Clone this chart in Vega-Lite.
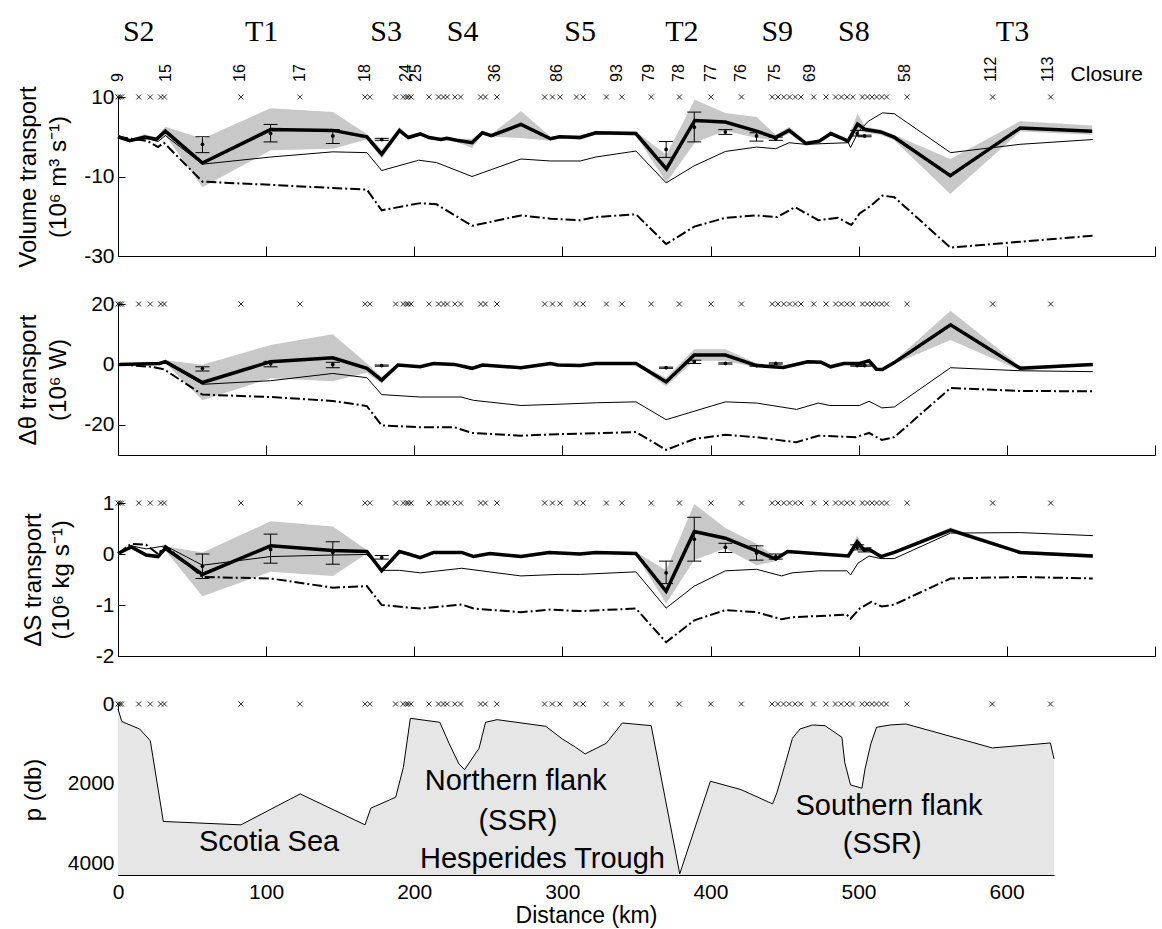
{
  "$schema": "https://vega.github.io/schema/vega-lite/v6.json",
  "background": "white",
  "padding": {"left": 16, "top": 17, "right": 5, "bottom": 5},
  "spacing": 48,
  "bounds": "flush",
  "config": {
    "font": "Liberation Sans",
    "view": {"stroke": null},
    "axis": {"grid": false, "domainColor": "black", "tickColor": "black", "labelColor": "black", "titleColor": "black", "labelFont": "Liberation Sans", "titleFont": "Liberation Sans", "labelFontSize": 21, "titleFontSize": 24, "titleFontWeight": "normal", "labelFlush": false, "labelOverlap": false, "domainWidth": 1, "tickWidth": 1}
  },
  "datasets": {
    "st": [{"x":0},{"x":1.2},{"x":2.4},{"x":14},{"x":21.8},{"x":28.8},{"x":31.3},{"x":83},{"x":122.8},{"x":166.8},{"x":170},{"x":187.4},{"x":192.6},{"x":194.7},{"x":196},{"x":197.8},{"x":210},{"x":216.4},{"x":219.7},{"x":222.3},{"x":227.4},{"x":231.3},{"x":244.8},{"x":248},{"x":255.8},{"x":288},{"x":293.3},{"x":298.5},{"x":309.5},{"x":314},{"x":329.7},{"x":340.1},{"x":360},{"x":379},{"x":400.2},{"x":420.9},{"x":441.6},{"x":445.5},{"x":449.4},{"x":453.3},{"x":457.2},{"x":461},{"x":469.6},{"x":477.9},{"x":484.4},{"x":488.3},{"x":492.2},{"x":496},{"x":502.5},{"x":505.9},{"x":509},{"x":512.1},{"x":515.5},{"x":518.8},{"x":532.7},{"x":590.4},{"x":629.6}],
    "sn": [{"x":0,"l":"9"},{"x":32.6,"l":"15"},{"x":82.5,"l":"16"},{"x":123,"l":"17"},{"x":167,"l":"18"},{"x":194.5,"l":"24"},{"x":201,"l":"25"},{"x":254.5,"l":"36"},{"x":296,"l":"86"},{"x":337,"l":"93"},{"x":358.6,"l":"79"},{"x":379,"l":"78"},{"x":400,"l":"77"},{"x":420.7,"l":"76"},{"x":443.3,"l":"75"},{"x":467,"l":"69"},{"x":531,"l":"58"},{"x":589.6,"l":"112"},{"x":628,"l":"113"}],
    "sl": [{"x":14,"l":"S2"},{"x":97,"l":"T1"},{"x":181,"l":"S3"},{"x":232.6,"l":"S4"},{"x":312,"l":"S5"},{"x":380.6,"l":"T2"},{"x":445,"l":"S9"},{"x":496.7,"l":"S8"},{"x":603.8,"l":"T3"}],
    "cl": [{"x":643,"l":"Closure"}],
    "p1": [{"x":0,"y":0,"lo":-0.3,"hi":0.3},{"x":8,"y":-1.0,"lo":-1.4,"hi":-0.6},{"x":18,"y":-0.1,"lo":-0.5,"hi":0.6},{"x":26,"y":-0.6,"lo":-1.0,"hi":-0.2},{"x":32,"y":1.4,"lo":0.3,"hi":2.5},{"x":57,"y":-6.6,"lo":-12.7,"hi":-0.5},{"x":103,"y":1.8,"lo":-3.4,"hi":7.2},{"x":145,"y":1.6,"lo":-3.0,"hi":6.2},{"x":168,"y":0,"lo":-0.7,"hi":0.7},{"x":178,"y":-4.4,"lo":-5.5,"hi":-3.3},{"x":190,"y":1.6,"lo":0.8,"hi":2.4},{"x":196,"y":-0.2,"lo":-0.6,"hi":0.2},{"x":204,"y":0.7,"lo":0.3,"hi":1.1},{"x":210,"y":-0.2,"lo":-0.6,"hi":0.2},{"x":218,"y":-0.7,"lo":-1.1,"hi":-0.3},{"x":222,"y":-0.4,"lo":-0.8,"hi":0},{"x":228.5,"y":-0.9,"lo":-1.3,"hi":-0.5},{"x":239,"y":-1.5,"lo":-2.8,"hi":-0.5},{"x":246,"y":1.0,"lo":0.5,"hi":1.5},{"x":252,"y":0.3,"lo":0,"hi":0.6},{"x":272,"y":3.1,"lo":-0.3,"hi":6.5},{"x":292,"y":-0.5,"lo":-1.0,"hi":0},{"x":298,"y":0,"lo":-0.3,"hi":0.3},{"x":312,"y":-0.2,"lo":-0.8,"hi":0.3},{"x":322.5,"y":1.0,"lo":0.5,"hi":1.4},{"x":349.6,"y":0.8,"lo":0.3,"hi":1.3},{"x":370.2,"y":-8.1,"lo":-11.5,"hi":-4.5},{"x":389.3,"y":4.1,"lo":-1.5,"hi":9.3},{"x":409.9,"y":3.7,"lo":1.5,"hi":6.0},{"x":431,"y":1.4,"lo":-0.3,"hi":5.0},{"x":443.8,"y":-0.2,"lo":-0.8,"hi":0.5},{"x":453,"y":1.6,"lo":0.8,"hi":2.5},{"x":464.4,"y":-1.7,"lo":-2.3,"hi":-1.1},{"x":473.4,"y":-1.1,"lo":-1.6,"hi":-0.6},{"x":481.2,"y":0.8,"lo":0.3,"hi":1.3},{"x":492.8,"y":-1.1,"lo":-1.6,"hi":-0.6},{"x":499.2,"y":3.2,"lo":1.5,"hi":5.8},{"x":504.4,"y":1.8,"lo":1.0,"hi":2.5},{"x":514.8,"y":1.2,"lo":0.5,"hi":1.8},{"x":523.8,"y":-0.1,"lo":-0.8,"hi":0.5},{"x":561.8,"y":-9.8,"lo":-14.4,"hi":-5.6},{"x":609,"y":2.2,"lo":1.3,"hi":3.9},{"x":657.6,"y":1.4,"lo":0.5,"hi":2.8}],
    "t1": [{"x":0,"y":0},{"x":8,"y":-1.0},{"x":20,"y":-0.5},{"x":27,"y":-1.2},{"x":32,"y":0.3},{"x":57,"y":-6.9},{"x":103,"y":-5.1},{"x":145,"y":-3.8},{"x":168,"y":-4.0},{"x":178,"y":-8.5},{"x":203,"y":-5.9},{"x":215,"y":-6.5},{"x":239,"y":-10},{"x":272,"y":-5.6},{"x":292,"y":-6.1},{"x":312,"y":-6.1},{"x":322.5,"y":-5.1},{"x":349.6,"y":-3.6},{"x":370,"y":-11.6},{"x":389,"y":-7.3},{"x":410,"y":-3.7},{"x":431,"y":-2.6},{"x":444,"y":-3.0},{"x":453,"y":-1.5},{"x":464,"y":-1.9},{"x":493,"y":-1.5},{"x":494.5,"y":-2.7},{"x":500,"y":1.4},{"x":506.5,"y":3.9},{"x":516,"y":6.0},{"x":524,"y":5.8},{"x":562,"y":-4.0},{"x":609,"y":-1.9},{"x":658,"y":-0.7}],
    "d1": [{"x":0,"y":0},{"x":20,"y":-1.1},{"x":27,"y":-2.6},{"x":31,"y":-1.5},{"x":57,"y":-11.3},{"x":103,"y":-12.1},{"x":145,"y":-12.9},{"x":168,"y":-13.3},{"x":178,"y":-18.5},{"x":204,"y":-16.7},{"x":215,"y":-17},{"x":239,"y":-22.4},{"x":272,"y":-19.8},{"x":292,"y":-20.6},{"x":312,"y":-21},{"x":322.5,"y":-20.2},{"x":349.6,"y":-19.5},{"x":370,"y":-27},{"x":389,"y":-22.6},{"x":410,"y":-20.4},{"x":431,"y":-19.8},{"x":445,"y":-20.2},{"x":457,"y":-17.7},{"x":472.7,"y":-21},{"x":486,"y":-20.4},{"x":495,"y":-22.2},{"x":500.6,"y":-19.3},{"x":508.5,"y":-17.3},{"x":516,"y":-14.8},{"x":524,"y":-15.2},{"x":562,"y":-27.9},{"x":609,"y":-26.4},{"x":658,"y":-24.9}],
    "e1": [{"x":57,"pt":-1.9,"lo":-4.0,"hi":0},{"x":103,"pt":0.8,"lo":-1.3,"hi":3.1},{"x":145,"pt":0.2,"lo":-1.7,"hi":1.8},{"x":178,"pt":-0.7,"lo":-0.9,"hi":-0.4},{"x":370,"pt":-3.2,"lo":-5.2,"hi":-1.2},{"x":389,"pt":2.4,"lo":-1.3,"hi":6.2},{"x":410,"pt":1.2,"lo":0.6,"hi":1.8},{"x":431,"pt":0.2,"lo":-1.1,"hi":1.0},{"x":444,"pt":-0.5,"lo":-0.9,"hi":-0.1},{"x":499,"pt":0.8,"lo":0.2,"hi":1.6},{"x":504,"pt":0.2,"lo":0.0,"hi":0.4}],
    "p2": [{"x":0,"y":0,"lo":-0.3,"hi":0.3},{"x":28,"y":0.3,"lo":0,"hi":0.6},{"x":32,"y":0.9,"lo":0.4,"hi":1.4},{"x":57,"y":-6.0,"lo":-11.9,"hi":-0.1},{"x":103,"y":0.9,"lo":-4.6,"hi":6.4},{"x":145,"y":2.2,"lo":-5.6,"hi":10},{"x":168,"y":-1.3,"lo":-2.8,"hi":0.3},{"x":178,"y":-5.2,"lo":-6.3,"hi":-4.1},{"x":189,"y":-0.2,"lo":-0.6,"hi":0.2},{"x":204,"y":-0.8,"lo":-1.2,"hi":-0.4},{"x":213,"y":0.3,"lo":-0.1,"hi":0.7},{"x":227,"y":0,"lo":-0.4,"hi":0.4},{"x":239,"y":-1.3,"lo":-1.8,"hi":-0.8},{"x":246,"y":-0.2,"lo":-0.6,"hi":0.2},{"x":272,"y":-1.1,"lo":-1.6,"hi":-0.6},{"x":292,"y":0.3,"lo":-0.1,"hi":0.7},{"x":297,"y":-0.2,"lo":-0.6,"hi":0.2},{"x":312,"y":-0.4,"lo":-0.8,"hi":0},{"x":322.5,"y":0.3,"lo":-0.1,"hi":0.7},{"x":349.6,"y":0.3,"lo":-0.1,"hi":0.7},{"x":370,"y":-5.8,"lo":-7.2,"hi":-4.4},{"x":389,"y":3.1,"lo":1.2,"hi":5.0},{"x":410,"y":3.1,"lo":1.2,"hi":5.0},{"x":431,"y":-0.4,"lo":-1.0,"hi":0.4},{"x":449,"y":-1.0,"lo":-1.5,"hi":-0.5},{"x":465.6,"y":0.9,"lo":0.4,"hi":1.4},{"x":474.6,"y":0.7,"lo":0.2,"hi":1.2},{"x":481,"y":-0.8,"lo":-1.2,"hi":-0.4},{"x":490,"y":0.3,"lo":-0.1,"hi":0.7},{"x":500.6,"y":0.3,"lo":-0.1,"hi":0.7},{"x":507,"y":1.2,"lo":0.7,"hi":1.7},{"x":512,"y":-1.6,"lo":-2.0,"hi":-1.2},{"x":516,"y":-1.7,"lo":-2.1,"hi":-1.3},{"x":524,"y":0.6,"lo":0.1,"hi":1.1},{"x":562,"y":13.1,"lo":8.1,"hi":17.8},{"x":609,"y":-1.3,"lo":-2.0,"hi":-0.6},{"x":658,"y":0,"lo":-0.4,"hi":0.4}],
    "t2": [{"x":0,"y":0},{"x":28,"y":0},{"x":32,"y":0.6},{"x":57,"y":-6.6},{"x":103,"y":-5.4},{"x":145,"y":-3.0},{"x":168,"y":-4.4},{"x":178,"y":-10},{"x":204,"y":-10.8},{"x":231.6,"y":-10.8},{"x":240,"y":-11.9},{"x":272,"y":-13.6},{"x":297,"y":-13.2},{"x":323,"y":-12.7},{"x":349.6,"y":-12.4},{"x":370,"y":-18.3},{"x":410,"y":-12.4},{"x":431,"y":-12.8},{"x":458,"y":-14.9},{"x":472.7,"y":-12.8},{"x":480.5,"y":-13.6},{"x":500.6,"y":-13.6},{"x":507,"y":-12.2},{"x":515.6,"y":-14.4},{"x":524,"y":-14.1},{"x":562,"y":-1.1},{"x":609,"y":-2.1},{"x":658,"y":-2.4}],
    "d2": [{"x":0,"y":0},{"x":23,"y":-0.8},{"x":31,"y":-1.6},{"x":57,"y":-10},{"x":103,"y":-10.8},{"x":145,"y":-12.1},{"x":168,"y":-13.8},{"x":178,"y":-20.2},{"x":204,"y":-20.8},{"x":227,"y":-20.8},{"x":239,"y":-22.7},{"x":272,"y":-23.6},{"x":297,"y":-23.1},{"x":323,"y":-22.8},{"x":349.6,"y":-22.4},{"x":370,"y":-28.3},{"x":389,"y":-24.7},{"x":410,"y":-23.3},{"x":431,"y":-24.1},{"x":458,"y":-25.8},{"x":472.7,"y":-23.6},{"x":498,"y":-24.1},{"x":507,"y":-22.7},{"x":515.6,"y":-25},{"x":524,"y":-24.1},{"x":562,"y":-7.8},{"x":609,"y":-8.8},{"x":658,"y":-8.9}],
    "e2": [{"x":57,"pt":-1.4,"lo":-2.2,"hi":-0.8},{"x":103,"pt":0.2,"lo":-0.8,"hi":1.0},{"x":145,"pt":0,"lo":-1.1,"hi":0.7},{"x":178,"pt":-0.4,"lo":-0.6,"hi":-0.2},{"x":370,"pt":-1.1,"lo":-1.3,"hi":-0.9},{"x":389,"pt":0.9,"lo":0.3,"hi":1.4},{"x":410,"pt":0.3,"lo":0.1,"hi":0.5},{"x":431,"pt":-0.4,"lo":-0.6,"hi":-0.2},{"x":444,"pt":0.3,"lo":0.1,"hi":0.5},{"x":499,"pt":-0.4,"lo":-0.6,"hi":-0.2},{"x":504,"pt":-0.4,"lo":-0.6,"hi":-0.2}],
    "p3": [{"x":0,"y":0.01,"lo":-0.01,"hi":0.03},{"x":9,"y":0.14,"lo":0.11,"hi":0.18},{"x":19,"y":-0.02,"lo":-0.05,"hi":0.01},{"x":27,"y":-0.05,"lo":-0.08,"hi":-0.02},{"x":32,"y":0.11,"lo":0.07,"hi":0.15},{"x":57,"y":-0.4,"lo":-0.83,"hi":0.03},{"x":103,"y":0.16,"lo":-0.35,"hi":0.64},{"x":145,"y":0.07,"lo":-0.43,"hi":0.54},{"x":168,"y":0.05,"lo":0.01,"hi":0.08},{"x":178,"y":-0.33,"lo":-0.37,"hi":-0.28},{"x":190,"y":0.05,"lo":0.02,"hi":0.08},{"x":196,"y":0,"lo":-0.03,"hi":0.03},{"x":204,"y":-0.07,"lo":-0.1,"hi":-0.04},{"x":213,"y":0.03,"lo":0,"hi":0.06},{"x":232,"y":0.03,"lo":0,"hi":0.06},{"x":240,"y":-0.05,"lo":-0.08,"hi":-0.02},{"x":251,"y":0.01,"lo":-0.02,"hi":0.04},{"x":272,"y":-0.05,"lo":-0.08,"hi":-0.02},{"x":291,"y":0.03,"lo":0,"hi":0.06},{"x":312,"y":0,"lo":-0.03,"hi":0.03},{"x":322.5,"y":0.03,"lo":0,"hi":0.06},{"x":349.6,"y":0.01,"lo":-0.02,"hi":0.04},{"x":370,"y":-0.73,"lo":-0.97,"hi":-0.32},{"x":389,"y":0.44,"lo":-0.12,"hi":0.98},{"x":410,"y":0.31,"lo":0.11,"hi":0.51},{"x":431,"y":0.06,"lo":-0.22,"hi":0.2},{"x":444,"y":-0.1,"lo":-0.14,"hi":-0.05},{"x":452,"y":0.05,"lo":0.02,"hi":0.08},{"x":493,"y":-0.04,"lo":-0.07,"hi":-0.01},{"x":499,"y":0.24,"lo":0.13,"hi":0.37},{"x":503.5,"y":0.08,"lo":0.05,"hi":0.11},{"x":507,"y":0.09,"lo":0.06,"hi":0.12},{"x":515,"y":-0.05,"lo":-0.08,"hi":-0.02},{"x":524,"y":0.03,"lo":0,"hi":0.06},{"x":562,"y":0.47,"lo":0.42,"hi":0.52},{"x":609,"y":0.03,"lo":0,"hi":0.06},{"x":658,"y":-0.04,"lo":-0.08,"hi":0}],
    "t3": [{"x":0,"y":0.01},{"x":9,"y":0.16},{"x":19,"y":0.1},{"x":32,"y":0.16},{"x":57,"y":-0.22},{"x":103,"y":-0.05},{"x":145,"y":-0.02},{"x":168,"y":-0.01},{"x":178,"y":-0.32},{"x":190,"y":-0.32},{"x":204,"y":-0.37},{"x":232,"y":-0.28},{"x":272,"y":-0.43},{"x":297,"y":-0.4},{"x":312,"y":-0.4},{"x":349.6,"y":-0.35},{"x":370,"y":-1.06},{"x":389,"y":-0.63},{"x":410,"y":-0.33},{"x":431,"y":-0.3},{"x":448,"y":-0.43},{"x":455,"y":-0.37},{"x":472.7,"y":-0.33},{"x":492,"y":-0.33},{"x":494.5,"y":-0.41},{"x":499.5,"y":-0.18},{"x":507,"y":-0.04},{"x":515,"y":-0.09},{"x":524,"y":-0.09},{"x":562,"y":0.41},{"x":609,"y":0.42},{"x":658,"y":0.36}],
    "d3": [{"x":0,"y":0.01},{"x":9,"y":0.2},{"x":19,"y":0.18},{"x":27,"y":0},{"x":32,"y":0.16},{"x":57,"y":-0.45},{"x":103,"y":-0.48},{"x":145,"y":-0.66},{"x":168,"y":-0.63},{"x":178,"y":-1.0},{"x":204,"y":-1.07},{"x":232,"y":-0.99},{"x":240,"y":-1.07},{"x":272,"y":-1.14},{"x":292,"y":-1.09},{"x":312,"y":-1.12},{"x":349.6,"y":-1.07},{"x":370,"y":-1.73},{"x":389,"y":-1.3},{"x":410,"y":-1.1},{"x":431,"y":-1.14},{"x":448,"y":-1.28},{"x":455,"y":-1.24},{"x":492,"y":-1.19},{"x":494.5,"y":-1.27},{"x":500.6,"y":-1.07},{"x":508.5,"y":-0.94},{"x":515.6,"y":-1.03},{"x":524,"y":-0.99},{"x":562,"y":-0.48},{"x":609,"y":-0.45},{"x":658,"y":-0.48}],
    "e3": [{"x":57,"pt":-0.24,"lo":-0.48,"hi":0.0},{"x":103,"pt":0.09,"lo":-0.18,"hi":0.39},{"x":145,"pt":0.03,"lo":-0.2,"hi":0.24},{"x":178,"pt":-0.07,"lo":-0.1,"hi":-0.03},{"x":370,"pt":-0.37,"lo":-0.58,"hi":-0.14},{"x":389,"pt":0.29,"lo":-0.14,"hi":0.72},{"x":410,"pt":0.13,"lo":0.03,"hi":0.21},{"x":431,"pt":0.02,"lo":-0.12,"hi":0.16},{"x":444,"pt":-0.05,"lo":-0.1,"hi":0.0},{"x":499,"pt":0.13,"lo":0.08,"hi":0.18},{"x":504,"pt":0.08,"lo":0.04,"hi":0.12}],
    "bath": [{"x":0,"p":125},{"x":2.6,"p":440},{"x":14.6,"p":625},{"x":21.8,"p":917},{"x":30.6,"p":2940},{"x":83,"p":3025},{"x":123,"p":2250},{"x":166.8,"p":3025},{"x":170.7,"p":2608},{"x":187.5,"p":2333},{"x":192.7,"p":1583},{"x":197.4,"p":358},{"x":217.3,"p":458},{"x":223.7,"p":1000},{"x":230.2,"p":1500},{"x":234,"p":1642},{"x":243.8,"p":1108},{"x":248.2,"p":458},{"x":256,"p":392},{"x":288.8,"p":558},{"x":300,"p":875},{"x":309,"p":1083},{"x":315.4,"p":1250},{"x":329.7,"p":983},{"x":340.5,"p":475},{"x":360,"p":542},{"x":379.3,"p":4250},{"x":400,"p":1933},{"x":420.6,"p":2142},{"x":442,"p":2500},{"x":445,"p":2208},{"x":450.2,"p":1542},{"x":455.4,"p":858},{"x":460.5,"p":625},{"x":469,"p":525},{"x":477.3,"p":542},{"x":488.8,"p":833},{"x":490.7,"p":1458},{"x":494.6,"p":2025},{"x":502.3,"p":2108},{"x":504.4,"p":1625},{"x":508.3,"p":1000},{"x":512.2,"p":583},{"x":521.3,"p":525},{"x":532,"p":500},{"x":590.4,"p":1100},{"x":629.6,"p":975},{"x":632,"p":1375}],
    "bt": [{"x":102,"p":3458,"l":"Scotia Sea"},{"x":268.6,"p":1925,"l":"Northern flank"},{"x":270,"p":2916,"l":"(SSR)"},{"x":286.6,"p":3875,"l":"Hesperides Trough"},{"x":520.6,"p":2541,"l":"Southern flank"},{"x":516,"p":3516,"l":"(SSR)"}]
  },
  "vconcat": [
    {
      "width": 1037, "height": 159,
      "encoding": {"x": {"field": "x", "type": "quantitative", "scale": {"domain": [0, 700], "nice": false, "zero": false}, "axis": {"values": [0,100,200,300,400,500,600,700], "labels": false, "tickSize": -10, "title": null}}},
      "layer": [
        {"data": {"name": "p1"}, "mark": {"type": "area", "color": "#c8c8c8"}, "encoding": {"y": {"field": "lo", "type": "quantitative", "scale": {"domain": [-30, 10], "nice": false, "zero": false}, "title": ["Volume transport", "(10⁶ m³ s⁻¹)"], "axis": {"values": [-30,-20,-10,0,10], "labelExpr": "'' + datum.value", "tickSize": -7, "labelPadding": 11, "titleX": -78, "titleY": 79.5, "titleAngle": 270, "titleAlign": "center", "titleBaseline": "bottom", "titleLineHeight": 30}}, "y2": {"field": "hi"}}},
        {"data": {"values": [{}]}, "mark": {"type": "rule", "color": "black", "strokeWidth": 1, "strokeDash": [46, 15]}, "encoding": {"x": {"datum": 0}, "x2": {"datum": 700}, "y": {"datum": 0}}},
        {"data": {"name": "t1"}, "mark": {"type": "line", "color": "black", "strokeWidth": 1}, "encoding": {"y": {"field": "y", "type": "quantitative", "title": ["Volume transport", "(10⁶ m³ s⁻¹)"]}}},
        {"data": {"name": "d1"}, "mark": {"type": "line", "color": "black", "strokeWidth": 2, "strokeDash": [10, 3, 2, 3]}, "encoding": {"y": {"field": "y", "type": "quantitative", "title": ["Volume transport", "(10⁶ m³ s⁻¹)"]}}},
        {"data": {"name": "p1"}, "mark": {"type": "line", "color": "black", "strokeWidth": 3.5}, "encoding": {"y": {"field": "y", "type": "quantitative", "title": ["Volume transport", "(10⁶ m³ s⁻¹)"]}}},
        {"data": {"name": "e1"}, "mark": {"type": "rule", "color": "black", "strokeWidth": 1}, "encoding": {"y": {"field": "lo", "type": "quantitative", "title": ["Volume transport", "(10⁶ m³ s⁻¹)"]}, "y2": {"field": "hi"}}},
        {"data": {"name": "e1"}, "mark": {"type": "point", "shape": "M-1,0L1,0", "size": 196, "filled": false, "stroke": "black", "strokeWidth": 1, "opacity": 1}, "encoding": {"y": {"field": "lo", "type": "quantitative", "title": ["Volume transport", "(10⁶ m³ s⁻¹)"]}}},
        {"data": {"name": "e1"}, "mark": {"type": "point", "shape": "M-1,0L1,0", "size": 196, "filled": false, "stroke": "black", "strokeWidth": 1, "opacity": 1}, "encoding": {"y": {"field": "hi", "type": "quantitative", "title": ["Volume transport", "(10⁶ m³ s⁻¹)"]}}},
        {"data": {"name": "e1"}, "mark": {"type": "point", "shape": "circle", "size": 14, "filled": true, "color": "black", "opacity": 1}, "encoding": {"y": {"field": "pt", "type": "quantitative", "title": ["Volume transport", "(10⁶ m³ s⁻¹)"]}}},
        {"data": {"name": "st"}, "mark": {"type": "point", "shape": "M-1,-1L1,1M-1,1L1,-1", "size": 25, "filled": false, "stroke": "black", "strokeWidth": 0.8, "opacity": 1}, "encoding": {"y": {"datum": 10}}},
        {"data": {"name": "sl"}, "mark": {"type": "text", "font": "Liberation Serif", "fontSize": 30, "align": "center", "baseline": "middle", "dy": -65, "color": "black"}, "encoding": {"y": {"datum": 10}, "text": {"field": "l"}}},
        {"data": {"name": "sn"}, "mark": {"type": "text", "fontSize": 16, "angle": 270, "align": "left", "baseline": "middle", "dx": 15, "color": "black"}, "encoding": {"y": {"datum": 10}, "text": {"field": "l"}}},
        {"data": {"name": "cl"}, "mark": {"type": "text", "fontSize": 21, "align": "left", "baseline": "middle", "dy": -22, "color": "black"}, "encoding": {"y": {"datum": 10}, "text": {"field": "l"}}}
      ]
    },
    {
      "width": 1037, "height": 151,
      "encoding": {"x": {"field": "x", "type": "quantitative", "scale": {"domain": [0, 700], "nice": false, "zero": false}, "axis": {"values": [0,100,200,300,400,500,600,700], "labels": false, "tickSize": -10, "title": null}}},
      "layer": [
        {"data": {"name": "p2"}, "mark": {"type": "area", "color": "#c8c8c8"}, "encoding": {"y": {"field": "lo", "type": "quantitative", "scale": {"domain": [-30, 20], "nice": false, "zero": false}, "title": ["Δθ transport", "(10⁶ W)"], "axis": {"values": [-20,0,20], "labelExpr": "'' + datum.value", "tickSize": -7, "labelPadding": 11, "titleX": -78, "titleY": 75.5, "titleAngle": 270, "titleAlign": "center", "titleBaseline": "bottom", "titleLineHeight": 30}}, "y2": {"field": "hi"}}},
        {"data": {"values": [{}]}, "mark": {"type": "rule", "color": "black", "strokeWidth": 1, "strokeDash": [46, 15]}, "encoding": {"x": {"datum": 0}, "x2": {"datum": 700}, "y": {"datum": 0}}},
        {"data": {"name": "t2"}, "mark": {"type": "line", "color": "black", "strokeWidth": 1}, "encoding": {"y": {"field": "y", "type": "quantitative", "title": ["Δθ transport", "(10⁶ W)"]}}},
        {"data": {"name": "d2"}, "mark": {"type": "line", "color": "black", "strokeWidth": 2, "strokeDash": [10, 3, 2, 3]}, "encoding": {"y": {"field": "y", "type": "quantitative", "title": ["Δθ transport", "(10⁶ W)"]}}},
        {"data": {"name": "p2"}, "mark": {"type": "line", "color": "black", "strokeWidth": 3.5}, "encoding": {"y": {"field": "y", "type": "quantitative", "title": ["Δθ transport", "(10⁶ W)"]}}},
        {"data": {"name": "e2"}, "mark": {"type": "rule", "color": "black", "strokeWidth": 1}, "encoding": {"y": {"field": "lo", "type": "quantitative", "title": ["Δθ transport", "(10⁶ W)"]}, "y2": {"field": "hi"}}},
        {"data": {"name": "e2"}, "mark": {"type": "point", "shape": "M-1,0L1,0", "size": 196, "filled": false, "stroke": "black", "strokeWidth": 1, "opacity": 1}, "encoding": {"y": {"field": "lo", "type": "quantitative", "title": ["Δθ transport", "(10⁶ W)"]}}},
        {"data": {"name": "e2"}, "mark": {"type": "point", "shape": "M-1,0L1,0", "size": 196, "filled": false, "stroke": "black", "strokeWidth": 1, "opacity": 1}, "encoding": {"y": {"field": "hi", "type": "quantitative", "title": ["Δθ transport", "(10⁶ W)"]}}},
        {"data": {"name": "e2"}, "mark": {"type": "point", "shape": "circle", "size": 14, "filled": true, "color": "black", "opacity": 1}, "encoding": {"y": {"field": "pt", "type": "quantitative", "title": ["Δθ transport", "(10⁶ W)"]}}},
        {"data": {"name": "st"}, "mark": {"type": "point", "shape": "M-1,-1L1,1M-1,1L1,-1", "size": 25, "filled": false, "stroke": "black", "strokeWidth": 0.8, "opacity": 1}, "encoding": {"y": {"datum": 20}}}
      ]
    },
    {
      "width": 1037, "height": 153,
      "encoding": {"x": {"field": "x", "type": "quantitative", "scale": {"domain": [0, 700], "nice": false, "zero": false}, "axis": {"values": [0,100,200,300,400,500,600,700], "labels": false, "tickSize": -10, "title": null}}},
      "layer": [
        {"data": {"name": "p3"}, "mark": {"type": "area", "color": "#c8c8c8"}, "encoding": {"y": {"field": "lo", "type": "quantitative", "scale": {"domain": [-2, 1], "nice": false, "zero": false}, "title": ["ΔS transport", "(10⁶ kg s⁻¹)"], "axis": {"values": [-2,-1,0,1], "labelExpr": "'' + datum.value", "tickSize": -7, "labelPadding": 11, "titleX": -73, "titleY": 76.5, "titleAngle": 270, "titleAlign": "center", "titleBaseline": "bottom", "titleLineHeight": 28}}, "y2": {"field": "hi"}}},
        {"data": {"values": [{}]}, "mark": {"type": "rule", "color": "#7a7a7a", "strokeWidth": 1.8, "strokeDash": [46, 15]}, "encoding": {"x": {"datum": 0}, "x2": {"datum": 700}, "y": {"datum": 0}}},
        {"data": {"name": "t3"}, "mark": {"type": "line", "color": "black", "strokeWidth": 1}, "encoding": {"y": {"field": "y", "type": "quantitative", "title": ["ΔS transport", "(10⁶ kg s⁻¹)"]}}},
        {"data": {"name": "d3"}, "mark": {"type": "line", "color": "black", "strokeWidth": 2, "strokeDash": [10, 3, 2, 3]}, "encoding": {"y": {"field": "y", "type": "quantitative", "title": ["ΔS transport", "(10⁶ kg s⁻¹)"]}}},
        {"data": {"name": "p3"}, "mark": {"type": "line", "color": "black", "strokeWidth": 3.5}, "encoding": {"y": {"field": "y", "type": "quantitative", "title": ["ΔS transport", "(10⁶ kg s⁻¹)"]}}},
        {"data": {"name": "e3"}, "mark": {"type": "rule", "color": "black", "strokeWidth": 1}, "encoding": {"y": {"field": "lo", "type": "quantitative", "title": ["ΔS transport", "(10⁶ kg s⁻¹)"]}, "y2": {"field": "hi"}}},
        {"data": {"name": "e3"}, "mark": {"type": "point", "shape": "M-1,0L1,0", "size": 196, "filled": false, "stroke": "black", "strokeWidth": 1, "opacity": 1}, "encoding": {"y": {"field": "lo", "type": "quantitative", "title": ["ΔS transport", "(10⁶ kg s⁻¹)"]}}},
        {"data": {"name": "e3"}, "mark": {"type": "point", "shape": "M-1,0L1,0", "size": 196, "filled": false, "stroke": "black", "strokeWidth": 1, "opacity": 1}, "encoding": {"y": {"field": "hi", "type": "quantitative", "title": ["ΔS transport", "(10⁶ kg s⁻¹)"]}}},
        {"data": {"name": "e3"}, "mark": {"type": "point", "shape": "circle", "size": 14, "filled": true, "color": "black", "opacity": 1}, "encoding": {"y": {"field": "pt", "type": "quantitative", "title": ["ΔS transport", "(10⁶ kg s⁻¹)"]}}},
        {"data": {"name": "st"}, "mark": {"type": "point", "shape": "M-1,-1L1,1M-1,1L1,-1", "size": 25, "filled": false, "stroke": "black", "strokeWidth": 0.8, "opacity": 1}, "encoding": {"y": {"datum": 1}}}
      ]
    },
    {
      "width": 936, "height": 171,
      "encoding": {"x": {"field": "x", "type": "quantitative", "scale": {"domain": [0, 632], "nice": false, "zero": false}, "axis": {"values": [0,100,200,300,400,500,600], "ticks": false, "labelPadding": 6, "title": "Distance (km)", "titleFontSize": 23, "titlePadding": 2}}},
      "layer": [
        {"data": {"name": "bath"}, "mark": {"type": "area", "color": "#e6e6e6"}, "encoding": {"y": {"field": "p", "type": "quantitative", "scale": {"domain": [0, 4280], "reverse": true, "nice": false, "zero": false}, "title": "p (db)", "axis": {"values": [0,2000,4000], "labelExpr": "'' + datum.value", "ticks": false, "labelPadding": 4, "titleX": -73, "titleY": 85.5, "titleAngle": 270, "titleAlign": "center", "titleBaseline": "bottom"}}, "y2": {"datum": 4280}}},
        {"data": {"name": "bath"}, "mark": {"type": "line", "color": "black", "strokeWidth": 1}, "encoding": {"y": {"field": "p", "type": "quantitative", "title": "p (db)"}}},
        {"data": {"name": "st"}, "mark": {"type": "point", "shape": "M-1,-1L1,1M-1,1L1,-1", "size": 25, "filled": false, "stroke": "black", "strokeWidth": 0.8, "opacity": 1}, "encoding": {"y": {"datum": 0}}},
        {"data": {"name": "bt"}, "mark": {"type": "text", "fontSize": 29, "align": "center", "baseline": "middle", "color": "black"}, "encoding": {"y": {"field": "p", "type": "quantitative", "title": "p (db)"}, "text": {"field": "l"}}}
      ]
    }
  ]
}
